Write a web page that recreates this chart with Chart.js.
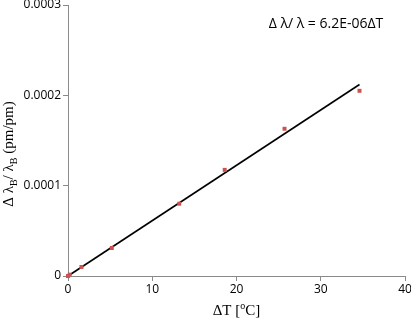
<!DOCTYPE html>
<html>
<head>
<meta charset="utf-8">
<script src="https://cdn.jsdelivr.net/npm/chart.js@4"></script>
<style>
html,body{margin:0;padding:0;background:#fff;}
#wrap{width:411px;height:318px;position:relative;}
</style>
</head>
<body>
<div id="wrap"><canvas id="c"></canvas></div>
<script>
// Measured points
const deltaT = [0, 0.2, 1.6, 5.2, 13.2, 18.6, 25.7, 34.6];
const strain = [0, 0.0000015, 0.00001, 0.000031, 0.00008, 0.0001175, 0.000163, 0.000205];
// Linear trendline end points
const trendX = [0, 34.6];
const trendY = [0, 0.000212];
// Tick labels
const xTickLabels = ['0', '10', '20', '30', '40'];
const yTickLabels = ['0', '0.0001', '0.0002', '0.0003'];
// Texts
const equationText = 'Δ λ/ λ = 6.2E-06ΔT';
const xTitleParts = [['ΔT [', ''], ['o', 'sup'], ['C]', '']];
const yTitleParts = [['Δ λ', ''], ['B', 'sub'], ['/ λ', ''], ['B', 'sub'], [' (pm/pm)', '']];

const axisGray = '#8a8a8a';
const serif = '"Liberation Serif", "DejaVu Serif", serif';
const sans = '"Open Sans", "Noto Sans", sans-serif';

function drawRich(ctx, parts, size) {
  const big = size + 'px ' + serif;
  const small = Math.round(size * 0.68) + 'px ' + serif;
  let total = 0;
  const widths = parts.map(p => { ctx.font = p[1] ? small : big; const w = ctx.measureText(p[0]).width; total += w; return w; });
  let x = -total / 2;
  parts.forEach((p, i) => {
    ctx.font = p[1] ? small : big;
    let dy = 0;
    if (p[1] === 'sub') dy = size * 0.28;
    if (p[1] === 'sup') dy = -size * 0.38;
    ctx.fillText(p[0], x, dy);
    x += widths[i];
  });
}

const textPlugin = {
  id: 'texts',
  afterDraw(chart) {
    const ctx = chart.ctx;
    const area = chart.chartArea;
    ctx.save();
    ctx.fillStyle = '#000';
    ctx.textAlign = 'left';
    ctx.textBaseline = 'alphabetic';
    // x title
    ctx.save();
    ctx.translate((area.left + area.right) / 2, 315);
    drawRich(ctx, xTitleParts, 15);
    ctx.restore();
    // y title
    ctx.save();
    ctx.translate(13, 154);
    ctx.rotate(-Math.PI / 2);
    drawRich(ctx, yTitleParts, 15);
    ctx.restore();
    // equation
    ctx.font = '14px ' + sans;
    ctx.textAlign = 'center';
    ctx.textBaseline = 'middle';
    ctx.fillText(equationText, 326, 24);
    ctx.restore();
  }
};

new Chart(document.getElementById('c'), {
  type: 'scatter',
  data: {
    datasets: [
      {
        label: 'trend',
        data: trendX.map((x, i) => ({x: x, y: trendY[i]})),
        showLine: true,
        borderColor: '#000',
        borderWidth: 1.6,
        pointRadius: 0,
        clip: false,
        order: 2
      },
      {
        label: 'data',
        data: deltaT.map((x, i) => ({x: x, y: strain[i]})),
        pointStyle: 'rect',
        pointRadius: 2.8,
        pointBorderWidth: 0,
        backgroundColor: '#cc5252',
        borderColor: '#cc5252',
        clip: false,
        order: 1
      }
    ]
  },
  options: {
    responsive: true,
    maintainAspectRatio: false,
    animation: false,
    layout: {padding: {left: 0, right: 6, top: 5, bottom: 0}},
    plugins: {legend: {display: false}, tooltip: {enabled: false}},
    scales: {
      x: {
        type: 'linear',
        min: 0, max: 40,
        ticks: {
          stepSize: 10,
          color: '#000',
          font: {family: sans, size: 12},
          padding: 1,
          maxRotation: 0,
          callback: (v, i) => xTickLabels[i]
        },
        grid: {drawOnChartArea: false, drawTicks: true, tickLength: 5, color: axisGray, lineWidth: 1},
        border: {display: true, color: axisGray, width: 1},
        afterFit: s => { s.height = 42; s.paddingLeft = 0; s.paddingRight = 0; }
      },
      y: {
        type: 'linear',
        min: 0, max: 0.0003,
        ticks: {
          stepSize: 0.0001,
          color: '#000',
          font: {family: sans, size: 12},
          padding: 2,
          callback: (v, i) => yTickLabels[i]
        },
        grid: {drawOnChartArea: false, drawTicks: true, tickLength: 5, color: axisGray, lineWidth: 1},
        border: {display: true, color: axisGray, width: 1},
        afterFit: s => { s.width = 68; s.paddingTop = 0; s.paddingBottom = 0; }
      }
    }
  },
  plugins: [textPlugin]
});
</script>
</body>
</html>
